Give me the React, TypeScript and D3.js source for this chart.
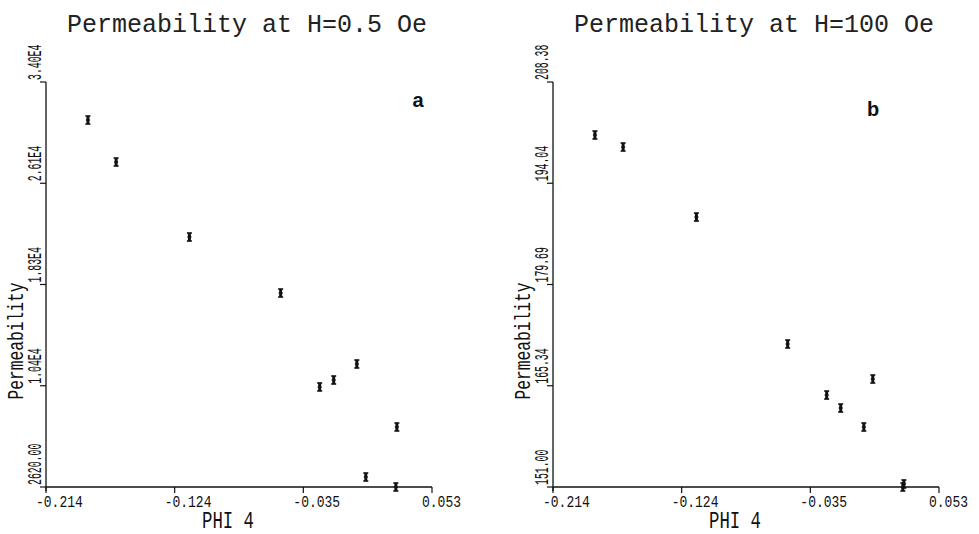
import React from 'react';
import * as d3 from 'd3';

// PHI 4 of each sample (shared by both panels)
const phi4 = [-0.185, -0.1655, -0.1148, -0.0517, -0.0247, -0.015, 0.001, 0.0072, 0.028, 0.0287];
// permeability at H=0.5 Oe
const permLow = [31055, 27800, 21990, 17650, 10370, 10910, 12150, 3395, 2620, 7270];
// permeability at H=100 Oe
const permHigh = [200.87, 199.17, 189.25, 171.26, 164.03, 162.19, 159.5, 166.3, 151.0, 151.43];

const xTickLabels = ['-0.214', '-0.124', '-0.035', '0.053'];
const lowTickLabels = ['2620.00', '1.04E4', '1.83E4', '2.61E4', '3.40E4'];
const highTickLabels = ['151.00', '165.34', '179.69', '194.04', '208.38'];

const width = 979;
const height = 534;
const mono = "'Liberation Mono', 'DejaVu Sans Mono', monospace";

type PanelProps = {
  left: number;
  title: string;
  letter: string;
  letterPos: [number, number];
  ys: number[];
  yDomain: [number, number];
  yLabels: string[];
};

const Panel = ({left, title, letter, letterPos, ys, yDomain, yLabels}: PanelProps) => {
  const top = 82;
  const bottom = 487;
  const plotW = 386;
  const x = d3.scaleLinear().domain([-0.214, 0.053]).range([left, left + plotW]);
  const y = d3.scaleLinear().domain(yDomain).range([bottom, top]);

  const xTicks = d3.range(xTickLabels.length).map(i => -0.214 + i * (0.267 / (xTickLabels.length - 1)));
  const yTicks = d3.range(yLabels.length).map(i => yDomain[0] + i * (yDomain[1] - yDomain[0]) / (yLabels.length - 1));

  return (
    <g>
      <text x={left + 201} y={32} textAnchor="middle" fontFamily={mono} fontSize={25}
            textLength={360} lengthAdjust="spacingAndGlyphs" fill="#222">{title}</text>

      {/* axes */}
      <line x1={left} x2={left} y1={top} y2={bottom + 4} stroke="#111" strokeWidth={1.3}/>
      <line x1={left} x2={left + plotW} y1={bottom} y2={bottom} stroke="#111" strokeWidth={1.3}/>

      {xTicks.map((t, i) => (
        <g key={'x' + i}>
          <line x1={x(t)} x2={x(t)} y1={bottom} y2={bottom + 6} stroke="#111" strokeWidth={1.2}/>
          <text x={x(t) - 10} y={507} textAnchor="start" fontFamily={mono} fontSize={17}
                textLength={xTickLabels[i].length * 7.8} lengthAdjust="spacingAndGlyphs" fill="#111">{xTickLabels[i]}</text>
        </g>
      ))}
      {yTicks.map((t, i) => (
        <g key={'y' + i}>
          <line x1={left - 6} x2={left} y1={y(t)} y2={y(t)} stroke="#111" strokeWidth={1.2}/>
          <text transform={`translate(${left - 5},${y(t) - 2}) rotate(-90)`} textAnchor="start"
                fontFamily={mono} fontSize={21} textLength={yLabels[i].length * 5.9}
                lengthAdjust="spacingAndGlyphs" fill="#111">{yLabels[i]}</text>
        </g>
      ))}

      <text x={left + 182} y={528} textAnchor="middle" fontFamily={mono} fontSize={23}
            textLength={52} lengthAdjust="spacingAndGlyphs" fill="#111">PHI 4</text>
      <text transform={`translate(${left - 23},341) rotate(-90)`} textAnchor="middle" fontFamily={mono}
            fontSize={22} textLength={117} lengthAdjust="spacingAndGlyphs" fill="#111">Permeability</text>

      <text x={letterPos[0]} y={letterPos[1]} textAnchor="middle" fontFamily="'Liberation Sans', Arial, sans-serif"
            fontWeight="bold" fontSize={20} fill="#111">{letter}</text>

      {/* points drawn as small error-bar marks */}
      {phi4.map((v, i) => {
        const cx = x(v);
        const cy = y(ys[i]);
        return (
          <g key={i} stroke="#111">
            <line x1={cx - 2.5} x2={cx + 2.5} y1={cy - 4} y2={cy - 4} strokeWidth={1.6}/>
            <line x1={cx - 2.5} x2={cx + 2.5} y1={cy + 4} y2={cy + 4} strokeWidth={1.6}/>
            <line x1={cx - 2} x2={cx + 2} y1={cy} y2={cy} strokeWidth={1.4}/>
            <line x1={cx} x2={cx} y1={cy - 4} y2={cy + 4} strokeWidth={3}/>
          </g>
        );
      })}
    </g>
  );
};

export default function App() {
  return (
    <svg width={width} height={height} style={{position: 'absolute', left: 0, top: 0, background: '#fff'}}>
      <rect width={width} height={height} fill="#fff"/>
      <Panel left={46} title="Permeability at H=0.5 Oe" letter="a" letterPos={[418, 107]}
             ys={permLow} yDomain={[2620, 34000]} yLabels={lowTickLabels}/>
      <Panel left={553} title="Permeability at H=100 Oe" letter="b" letterPos={[873, 116]}
             ys={permHigh} yDomain={[151.0, 208.38]} yLabels={highTickLabels}/>
    </svg>
  );
}
